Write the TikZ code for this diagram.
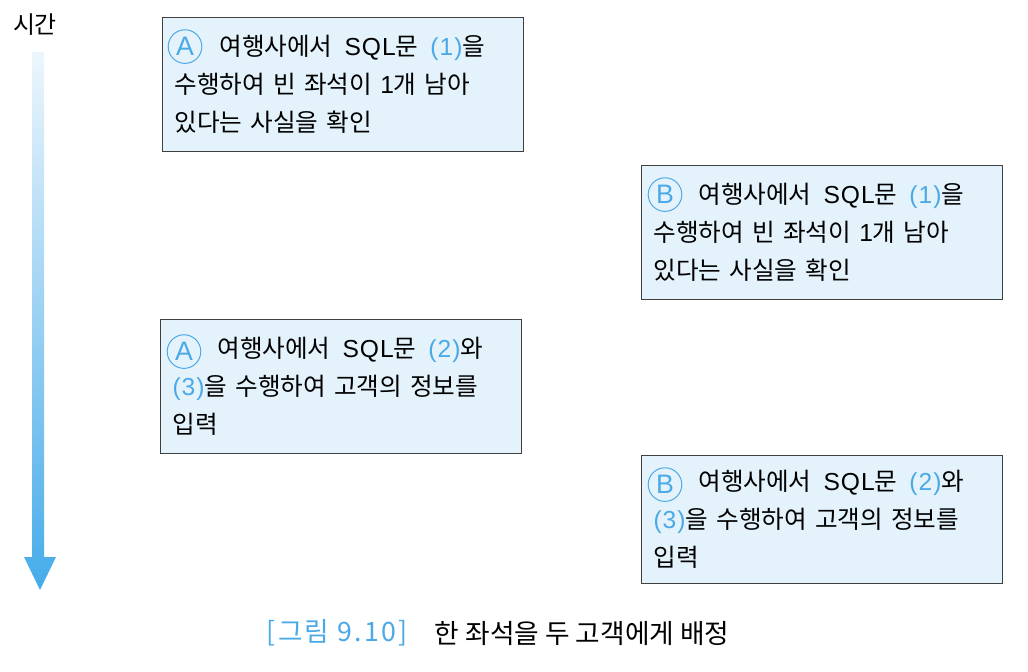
\documentclass[tikz,border=0pt]{standalone}
\usepackage{fontspec}
\setmainfont{Noto Sans CJK KR}
\newfontfamily\latinfont[LetterSpace=4]{Liberation Sans}
\usetikzlibrary{positioning,calc,shapes,arrows.meta}
\definecolor{boxfill}{HTML}{E4F2FB}
\definecolor{capblue}{HTML}{4AA9E6}
\definecolor{arrowtop}{HTML}{EDF6FC}
\definecolor{arrowbot}{HTML}{45ABEA}
\newcommand{\lat}[1]{{\latinfont #1}}
\newcommand{\sqlref}[1]{\textcolor{capblue}{\lat{(#1)}}}
\newcommand{\wsp}{\hspace{0.3cm}}
\tikzset{
    % Stile per i riquadri dei passi
    stepbox/.style={draw=black!75, fill=boxfill, line width=0.8pt,
                    anchor=north west, align=left,
                    text width=8.425cm, inner xsep=0.3cm,
                    minimum height=3.35cm,
                    font=\fontsize{17.5}{27}\selectfont},
    % Stile per la lettera cerchiata
    markcirc/.style={draw=capblue, circle, line width=0.7pt,
                     minimum size=0.84cm, inner sep=0pt,
                     text=capblue, font=\latinfont\fontsize{19}{19}\selectfont},
    caption/.style={font=\fontsize{19}{19}\selectfont, anchor=west}
}

\begin{document}
\begin{tikzpicture}[x=0.025cm,y=-0.025cm]
    \useasboundingbox (0,0) rectangle (1028,672);

    % Parameters
    \def\firstskip{\hspace*{1.12cm}}

    % Time axis
    \node (time) at (35,25) {\fontsize{17}{17}\selectfont 시간};
    \shade[top color=arrowtop, bottom color=arrowbot]
        (32,52) -- (44,52) -- (44,557) -- (56,557) -- (40,590)
        -- (24,557) -- (32,557) -- cycle;

    % Steps
    \node[stepbox] (a1) at (162,17)
        {\firstskip 여행사에서\wsp\lat{SQL}문\wsp\sqlref{1}을\\수행하여 빈 좌석이 \lat{1}개 남아\\있다는 사실을 확인};
    \node[stepbox] (b1) at (641,165)
        {\firstskip 여행사에서\wsp\lat{SQL}문\wsp\sqlref{1}을\\수행하여 빈 좌석이 \lat{1}개 남아\\있다는 사실을 확인};
    \node[stepbox] (a2) at (160,319)
        {\firstskip 여행사에서\wsp\lat{SQL}문\wsp\sqlref{2}와\\\sqlref{3}을 수행하여 고객의 정보를\\입력};
    \node[stepbox, minimum height=3.2cm] (b2) at (641,455)
        {\firstskip 여행사에서\wsp\lat{SQL}문\wsp\sqlref{2}와\\\sqlref{3}을 수행하여 고객의 정보를\\입력};

    % Circled letters
    \node[markcirc] (ma1) at ($(a1.west)+(23,-38)$) {A};
    \node[markcirc] (mb1) at ($(b1.west)+(24,-38)$) {B};
    \node[markcirc] (ma2) at ($(a2.west)+(24,-35)$) {A};
    \node[markcirc] (mb2) at ($(b2.west)+(24,-35)$) {B};

    % Caption
    \node[caption, text=capblue] (capnum) at (262,633)
        {\addfontfeature{LetterSpace=8}[그림 9.10]};
    \node[caption, right=0.45cm of capnum] (captext) {한 좌석을 두 고객에게 배정};
\end{tikzpicture}
\end{document}
